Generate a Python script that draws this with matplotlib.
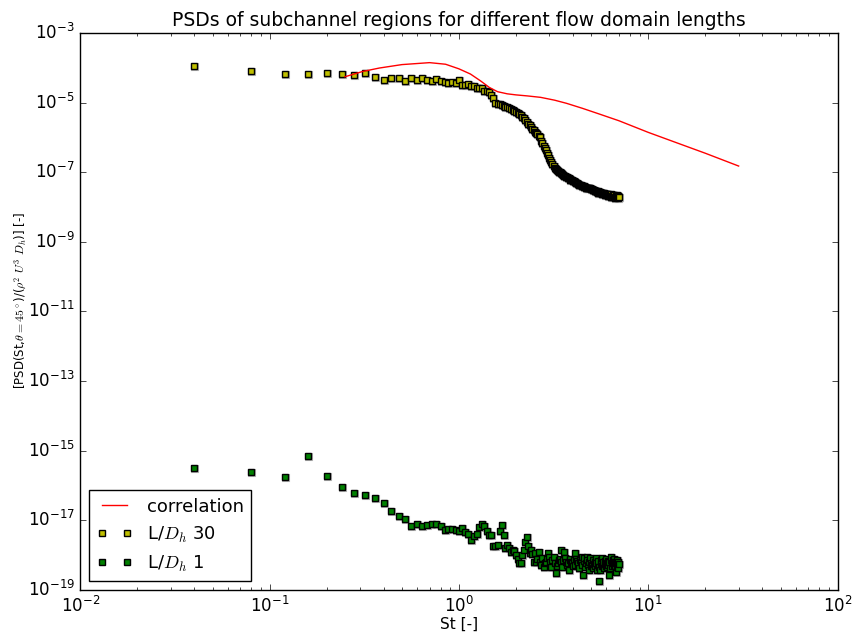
import matplotlib
matplotlib.use("Agg")
import matplotlib.pyplot as plt
import matplotlib.transforms as mtransforms
from matplotlib.ticker import NullLocator

plt.style.use("classic")
plt.rcParams["figure.facecolor"] = "white"
plt.rcParams["savefig.facecolor"] = "white"
plt.rcParams["axes.unicode_minus"] = False

# Strouhal numbers of the PSD estimates (same for both domain lengths)
st = [0.04, 0.08, 0.12, 0.16, 0.20, 0.24, 0.28, 0.32, 0.36, 0.40,
      0.44, 0.48, 0.52, 0.56, 0.60, 0.64, 0.68, 0.72, 0.76, 0.80,
      0.84, 0.88, 0.92, 0.96, 1.00, 1.04, 1.08, 1.12, 1.16, 1.20,
      1.24, 1.28, 1.32, 1.36, 1.40, 1.44, 1.48, 1.52, 1.56, 1.60,
      1.64, 1.68, 1.72, 1.76, 1.80, 1.84, 1.88, 1.92, 1.96, 2.00,
      2.04, 2.08, 2.12, 2.16, 2.20, 2.24, 2.28, 2.32, 2.36, 2.40,
      2.44, 2.48, 2.52, 2.56, 2.60, 2.64, 2.68, 2.72, 2.76, 2.80,
      2.84, 2.88, 2.92, 2.96, 3.00, 3.04, 3.08, 3.12, 3.16, 3.20,
      3.24, 3.28, 3.32, 3.36, 3.40, 3.44, 3.48, 3.52, 3.56, 3.60,
      3.64, 3.68, 3.72, 3.76, 3.80, 3.84, 3.88, 3.92, 3.96, 4.00,
      4.04, 4.08, 4.12, 4.16, 4.20, 4.24, 4.28, 4.32, 4.36, 4.40,
      4.44, 4.48, 4.52, 4.56, 4.60, 4.64, 4.68, 4.72, 4.76, 4.80,
      4.84, 4.88, 4.92, 4.96, 5.00, 5.04, 5.08, 5.12, 5.16, 5.20,
      5.24, 5.28, 5.32, 5.36, 5.40, 5.44, 5.48, 5.52, 5.56, 5.60,
      5.64, 5.68, 5.72, 5.76, 5.80, 5.84, 5.88, 5.92, 5.96, 6.00,
      6.04, 6.08, 6.12, 6.16, 6.20, 6.24, 6.28, 6.32, 6.36, 6.40,
      6.44, 6.48, 6.52, 6.56, 6.60, 6.64, 6.68, 6.72, 6.76, 6.80,
      6.84, 6.88, 6.92, 6.96, 7.00]

# L/Dh = 30
psd_L30 = [1.13e-4, 8.1e-5, 6.5e-5, 6.6e-5, 7.2e-5, 6.8e-5, 6.2e-5, 6.95e-5, 5.3e-5, 4.46e-5,
           5.1e-5, 5.2e-5, 4.04e-5, 5.1e-5, 4.46e-5, 5.1e-5, 4.37e-5, 4.18e-5, 4.77e-5, 4.18e-5,
           3.99e-5, 3.73e-5, 3.99e-5, 3.73e-5, 4.46e-5, 3.2e-5, 3.2e-5, 3.36e-5, 3.0e-5, 3.06e-5,
           2.63e-5, 2.58e-5, 2.54e-5, 2.2e-5, 2.15e-5, 2.02e-5, 1.65e-5, 1.33e-5, 9.7e-6, 9.1e-6,
           8.8e-6, 8.5e-6, 8.0e-6, 7.5e-6, 7.3e-6, 6.9e-6, 6.5e-6, 6.2e-6, 5.8e-6, 5.4e-6,
           5.0e-6, 4.7e-6, 4.3e-6, 3.9e-6, 3.5e-6, 3.1e-6, 2.75e-6, 2.4e-6, 2.2e-6, 1.95e-6,
           1.75e-6, 1.6e-6, 1.45e-6, 1.33e-6, 1.25e-6, 1.12e-6, 1.05e-6, 8.0e-7, 6.8e-7, 5.8e-7,
           4.9e-7, 4.2e-7, 3.6e-7, 3.1e-7, 2.6e-7, 2.25e-7, 1.95e-7, 1.7e-7, 1.5e-7, 1.35e-7,
           1.22e-7, 1.15e-7, 1.08e-7, 1.02e-7, 9.8e-8, 9.5e-8, 9.2e-8, 8.7e-8, 8.3e-8, 8.0e-8,
           7.7e-8, 7.4e-8, 7.3e-8, 7.0e-8, 6.6e-8, 6.4e-8, 6.1e-8, 6.0e-8, 5.8e-8, 5.6e-8,
           5.5e-8, 5.2e-8, 5.1e-8, 5.0e-8, 4.9e-8, 4.7e-8, 4.6e-8, 4.4e-8, 4.3e-8, 4.2e-8,
           4.1e-8, 4.1e-8, 4.0e-8, 3.9e-8, 3.8e-8, 3.7e-8, 3.6e-8, 3.6e-8, 3.5e-8, 3.5e-8,
           3.4e-8, 3.45e-8, 3.4e-8, 3.3e-8, 3.2e-8, 3.3e-8, 3.1e-8, 3.0e-8, 3.15e-8, 2.9e-8,
           2.95e-8, 2.8e-8, 2.9e-8, 2.7e-8, 2.85e-8, 2.6e-8, 2.7e-8, 2.55e-8, 2.65e-8, 2.5e-8,
           2.45e-8, 2.6e-8, 2.4e-8, 2.5e-8, 2.3e-8, 2.45e-8, 2.35e-8, 2.2e-8, 2.4e-8, 2.25e-8,
           2.3e-8, 2.15e-8, 2.35e-8, 2.1e-8, 2.25e-8, 2.05e-8, 2.2e-8, 2.0e-8, 2.3e-8, 2.1e-8,
           1.95e-8, 2.15e-8, 2.05e-8, 1.9e-8, 2.2e-8, 2.0e-8, 1.85e-8, 2.1e-8, 1.95e-8, 2.25e-8,
           1.9e-8, 2.05e-8, 1.85e-8, 2.1e-8, 1.95e-8]

# L/Dh = 1
psd_L1 = [3.2e-16, 2.45e-16, 1.77e-16, 7.1e-16, 1.9e-16, 9.1e-17, 6.1e-17, 5.3e-17, 4.4e-17, 3.18e-17,
          1.87e-17, 1.35e-17, 1.08e-17, 6.9e-18, 7.6e-18, 6.7e-18, 7.4e-18, 7.6e-18, 7.8e-18, 7.1e-18,
          5.4e-18, 5.55e-18, 5.55e-18, 5.4e-18, 4.8e-18, 6.1e-18, 4.6e-18, 4.1e-18, 2.8e-18, 3.5e-18,
          4.1e-18, 6.5e-18, 7.6e-18, 6.8e-18, 4.9e-18, 3.8e-18, 3.9e-18, 1.85e-18, 1.85e-18, 2.0e-18,
          4.9e-18, 7.3e-18, 3.9e-18, 1.56e-18, 2.0e-18, 1.56e-18, 1.24e-18, 1.39e-18, 1.3e-18, 1.0e-18,
          8.0e-19, 6.0e-19, 5.8e-19, 1.0e-18, 1.39e-18, 2.41e-18, 3.36e-18, 1.85e-18, 1.12e-18, 1.39e-18,
          1.07e-18, 6.4e-19, 1.12e-18, 6.4e-19, 8.0e-19, 1.22e-18, 6.4e-19, 5.2e-19, 8.2e-19, 4.6e-19,
          5.9e-19, 6.4e-19, 8.2e-19, 1.12e-18, 8.9e-19, 6.3e-19, 4.6e-19, 7.2e-19, 8.8e-19, 5.9e-19,
          3.1e-19, 4.8e-19, 5.8e-19, 7.2e-19, 8.0e-19, 6.3e-19, 1.39e-18, 4.6e-19, 7.2e-19, 1.24e-18,
          8.2e-19, 6.4e-19, 5.2e-19, 5.9e-19, 3.7e-19, 7.2e-19, 8.0e-19, 6.3e-19, 5.8e-19, 4.8e-19,
          7.2e-19, 1.16e-18, 5.2e-19, 8.0e-19, 6.7e-19, 5.2e-19, 5.9e-19, 4.2e-19, 7.2e-19, 6.3e-19,
          8.9e-19, 5.2e-19, 2.66e-19, 6.7e-19, 8.2e-19, 4.5e-19, 5.9e-19, 8.9e-19, 7.2e-19, 5.2e-19,
          6.3e-19, 3.7e-19, 8.2e-19, 4.8e-19, 5.9e-19, 5.2e-19, 4.15e-19, 7.2e-19, 5.5e-19, 6.3e-19,
          4.8e-19, 8.2e-19, 5.8e-19, 3.7e-19, 5.2e-19, 6.7e-19, 4.5e-19, 1.82e-19, 3.7e-19, 5.9e-19,
          7.2e-19, 4.8e-19, 8.2e-19, 5.2e-19, 6.3e-19, 4.15e-19, 5.5e-19, 6.7e-19, 4.8e-19, 7.7e-19,
          5.9e-19, 4.5e-19, 6.7e-19, 5.2e-19, 6.3e-19, 2.66e-19, 4.2e-19, 7.2e-19, 8.9e-19, 5.5e-19,
          4.8e-19, 7.2e-19, 5.9e-19, 5.2e-19, 7.7e-19, 6.3e-19, 4.8e-19, 3.3e-19, 5.9e-19, 4.6e-19,
          7.2e-19, 5.2e-19, 4.2e-19, 6.3e-19, 5.5e-19]

# correlation curve
st_corr = [0.25, 0.31, 0.38, 0.50, 0.70, 0.85, 1.0, 1.15, 1.3, 1.45, 1.6, 1.8,
           2.0, 2.3, 2.7, 3.2, 3.7, 4.5, 5.5, 7.0, 10.0, 15.0, 20.0, 30.0]
psd_corr = [5.5e-5, 7.8e-5, 9.8e-5, 1.23e-4, 1.40e-4, 1.26e-4, 9.3e-5, 6.6e-5, 4.2e-5,
            2.7e-5, 2.05e-5, 1.78e-5, 1.66e-5, 1.55e-5, 1.41e-5, 1.17e-5, 9.5e-6, 6.8e-6,
            4.7e-6, 3.0e-6, 1.39e-6, 6.2e-7, 3.5e-7, 1.5e-7]

yticks = [1e-3, 1e-5, 1e-7, 1e-9, 1e-11, 1e-13, 1e-15, 1e-17, 1e-19]

fig = plt.figure(figsize=(8.53, 6.33), dpi=100)
ax = fig.add_axes([0.094, 0.068, 0.888, 0.880])

# soft grey drop shadow under the square markers
shadow_tr = mtransforms.offset_copy(ax.transData, fig=fig, x=1, y=-1, units="dots")

ax.loglog(st_corr, psd_corr, "r-", lw=1, label="correlation", zorder=3)
for psd, col, lab in [(psd_L30, "y", r"L/$D_h$ 30"), (psd_L1, "g", r"L/$D_h$ 1")]:
    ax.loglog(st, psd, "s", color="#b4b4b4", mec="#b4b4b4", mew=1.5, ms=5,
              transform=shadow_tr, zorder=1)
    ax.loglog(st, psd, "s", color=col, mec="k", mew=1, ms=5, label=lab, zorder=2)

ax.set_xlim(1e-2, 1e2)
ax.set_ylim(1e-19, 1e-3)
ax.set_yticks(yticks)
ax.yaxis.set_minor_locator(NullLocator())

ax.set_title("PSDs of subchannel regions for different flow domain lengths", fontsize=13.5)
ax.set_xlabel("St [-]", fontsize=11, labelpad=1)
ax.set_ylabel(r"[PSD(St,$\theta=45^\circ$)/($\rho^2$ $U^3$ $D_h$)] [-]", fontsize=8.5)
ax.yaxis.set_label_coords(-0.068, 0.519)

ax.legend(loc="lower left", numpoints=2, fontsize=13)

fig.savefig("out.png", dpi=100)
